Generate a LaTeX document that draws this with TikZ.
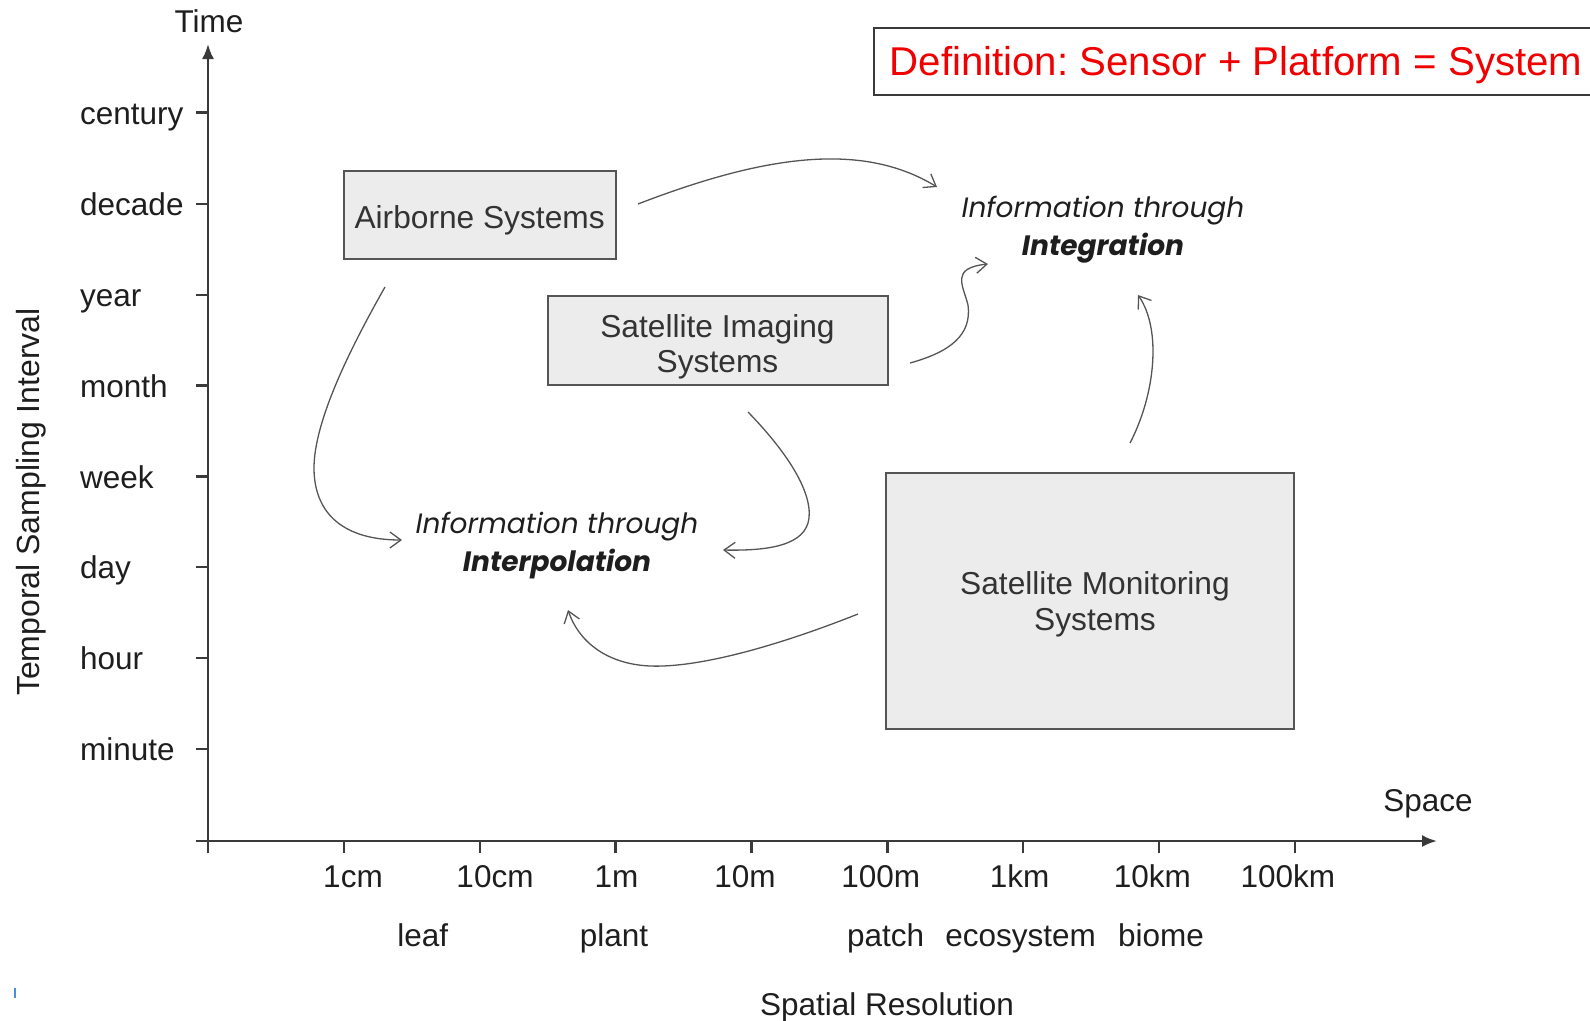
\documentclass[tikz,border=0pt]{standalone}
\usepackage{fontspec}
\setmainfont{Liberation Sans}
\newfontfamily\geofamily{Poppins}
\usetikzlibrary{arrows.meta}
\frenchspacing

% geometric sans for the two "Information through" labels
\newcommand\geofont{\geofamily\fontsize{28}{38}\selectfont}

\definecolor{axiscol}{HTML}{3A3A3A}
\definecolor{labelcol}{HTML}{1E1E1E}
\definecolor{boxline}{HTML}{555555}
\definecolor{boxfill}{HTML}{ECECEC}
\definecolor{boxtext}{HTML}{333333}
\definecolor{flowcol}{HTML}{555555}
\definecolor{defred}{HTML}{F00000}
\definecolor{markblue}{HTML}{4A90D9}

\begin{document}
\begin{tikzpicture}[x=1pt,y=-1pt,
  axisline/.style={draw=axiscol, line width=2.4pt},
  lbl/.style={font=\fontsize{31.5}{36}\selectfont, text=labelcol, inner sep=0pt},
  sysbox/.style={draw=boxline, line width=2pt, fill=boxfill, inner sep=0pt,
    align=center, font=\fontsize{31.7}{35.6}\selectfont, text=boxtext,
    text depth=0pt},
  flow/.style={draw=flowcol, line width=1.3pt,
    -{Straight Barb[length=11pt,width=16pt]}},
  info/.style={font=\geofont\itshape, align=center, text=labelcol, inner sep=0pt},
  axistip/.style={-{Latex[length=15pt,width=12pt]}}
]
\useasboundingbox (0,0) rectangle (1590,1020);
\fill[white] (0,0) rectangle (1590,1020);

% ---- axes ----
\draw[axisline, axistip] (208,853) -- (208,44);
\draw[axisline, axistip] (196,841) -- (1437,841);
\node[lbl, anchor=base] (timelbl) at (209,32) {Time};
\node[lbl, anchor=base] (spacelbl) at (1428,811) {Space};
\node[lbl, rotate=90, font=\fontsize{32}{36}\selectfont] (tsi) at (31,502)
      {Temporal Sampling Interval};
\node[lbl, anchor=base] (spres) at (887,1015) {Spatial Resolution};

% time scale
\foreach \yy/\tt in {112.6/century,203.8/decade,295/year,385.5/month,
                     476.6/week,566.8/day,658/hour,749/minute}{
  \draw[axisline] (196,\yy) -- (208,\yy);
  \node[lbl, anchor=base west] (t-\tt) at (80,\yy+11.5) {\tt};
}

% space scale
\foreach \xx in {343.8,479.7,615.6,751.4,887.3,1023.1,1159,1294.8}{
  \draw[axisline] (\xx,841) -- (\xx,853);
}
\foreach \xx/\tt in {353/1cm,495/10cm,616.5/1m,745/10m,880.7/100m,
                     1019.6/1km,1152.4/10km,1287.8/100km}{
  \node[lbl, anchor=base] (s-\tt) at (\xx,887) {\tt};
}
\foreach \xx/\tt in {422.8/leaf,614/plant,885.7/patch,1020.6/ecosystem,1161/biome}{
  \node[lbl, anchor=base] (e-\tt) at (\xx,946) {\tt};
}

% ---- definition ----
\node[draw=axiscol, line width=2pt, fill=white, minimum width=728pt,
      minimum height=67pt, inner sep=0pt] (defbox) at (1238,61) {};
\node[font=\fontsize{40.2}{44}\selectfont, text=defred, inner sep=0pt, anchor=base]
      (deftext) at (1236,75.5) {Definition: Sensor + Platform = System};

% ---- systems ----
\node[sysbox, minimum width=272pt, minimum height=88pt, text height=27pt]
      (air) at (479.6,214.5) {Airborne Systems};
\node[sysbox, minimum width=340pt, minimum height=88.5pt, text height=64pt]
      (img) at (717.5,340.7) {Satellite Imaging\\Systems};
\node[sysbox, minimum width=407.6pt, minimum height=256.5pt] (mon) at (1090,600.8)
      {\hspace*{10pt}Satellite Monitoring\\\hspace*{10pt}Systems};

% ---- information targets ----
\node[info] (integ) at (1103,230) {Information through\\\textbf{Integration}};
\node[info] (interp) at (557,546) {Information through\\\textbf{Interpolation}};

% ---- connectors ----
\coordinate (c1s) at (638,204);   \coordinate (c1e) at (937,187);
\coordinate (c2s) at (910,363);   \coordinate (c2e) at (988,264);
\coordinate (c3s) at (1130,443);  \coordinate (c3e) at (1138,295);
\coordinate (c4s) at (385,287);   \coordinate (c4e) at (402,540);
\coordinate (c5s) at (748,412);   \coordinate (c5e) at (723,550);
\coordinate (c6s) at (858,614);   \coordinate (c6e) at (568,610);

% airborne -> integration
\draw[flow] (c1s) .. controls (760,157) and (860,140) .. (c1e);
% imaging -> integration
\draw[flow] (c2s) .. controls (950,352) and (972,335) .. (968,305)
                  .. controls (963,285) and (950,268) .. (c2e);
% monitoring -> integration
\draw[flow] (c3s) .. controls (1155,395) and (1162,330) .. (c3e);
% airborne -> interpolation
\draw[flow] (c4s) .. controls (355,340) and (313,420) .. (314,470)
                  .. controls (315,515) and (345,540) .. (c4e);
% imaging -> interpolation
\draw[flow] (c5s) .. controls (785,450) and (812,490) .. (809,518)
                  .. controls (806,545) and (770,551) .. (c5e);
% monitoring -> interpolation
\draw[flow] (c6s) .. controls (780,645) and (700,668) .. (650,666)
                  .. controls (605,664) and (578,640) .. (c6e);

% small margin mark
\coordinate (mk1) at (15,988); \coordinate (mk2) at (15,998);
\draw[markblue, line width=1.6pt] (mk1) -- (mk2);
\end{tikzpicture}
\end{document}
